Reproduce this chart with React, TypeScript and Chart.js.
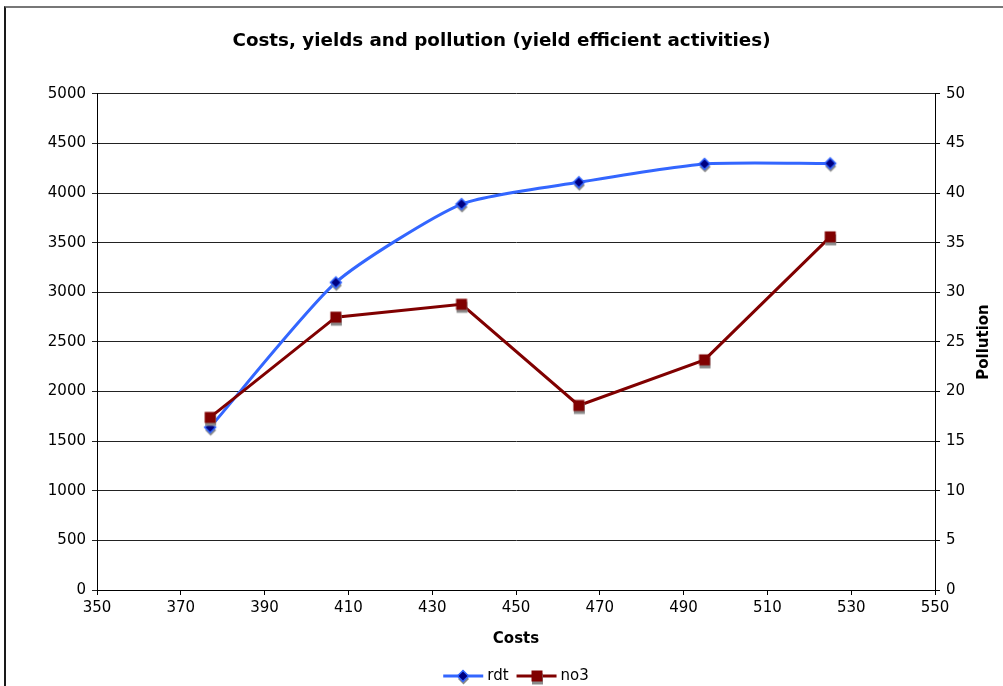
import { useEffect, useRef } from 'react';
import { Chart, registerables } from 'chart.js';

Chart.register(...registerables);

// Series data
const costs = [377, 407, 437, 465, 495, 525];
const rdt = [1640, 3100, 3890, 4110, 4295, 4300];
const no3 = [17.4, 27.5, 28.8, 18.6, 23.2, 35.6];

const seriesNames = ['rdt', 'no3'];
const chartTitle = 'Costs, yields and pollution (yield efficient activities)';
const xTitle = 'Costs';
const rightTitle = 'Pollution';

// Axis ranges
const xRange = { min: 350, max: 550, step: 20 };
const yLeftRange = { min: 0, max: 5000, step: 500 };
const yRightRange = { min: 0, max: 50, step: 5 };

const FONT = '"DejaVu Sans", Verdana, sans-serif';
const BLUE = '#3366ff';
const NAVY = '#000080';
const MAROON = '#800000';

// Marker sprites with a drop shadow, like spreadsheet charts draw them
function makeMarker(shape: 'diamond' | 'square'): HTMLCanvasElement {
  const c = document.createElement('canvas');
  c.width = 20;
  c.height = 20;
  const g = c.getContext('2d')!;
  const path = (dx: number, dy: number) => {
    g.beginPath();
    if (shape === 'diamond') {
      g.moveTo(10 + dx, 4.5 + dy);
      g.lineTo(15.5 + dx, 10 + dy);
      g.lineTo(10 + dx, 15.5 + dy);
      g.lineTo(4.5 + dx, 10 + dy);
    } else {
      g.rect(4.5 + dx, 4.5 + dy, 11, 11);
    }
    g.closePath();
  };
  path(0.5, 3);
  g.fillStyle = '#8a8a8a';
  g.fill();
  path(0, 0);
  if (shape === 'diamond') {
    g.fillStyle = NAVY;
    g.fill();
    g.strokeStyle = BLUE;
    g.lineWidth = 1.5;
    g.stroke();
  } else {
    g.fillStyle = MAROON;
    g.fill();
  }
  return c;
}

const plainNumber = (v: string | number) => String(v);

const extras = {
  id: 'extras',
  afterDraw(chart: any) {
    const { ctx, chartArea } = chart;
    // right axis title, reading bottom to top
    ctx.save();
    ctx.font = `bold 15px ${FONT}`;
    ctx.fillStyle = '#000';
    ctx.textAlign = 'center';
    ctx.textBaseline = 'middle';
    ctx.translate(chart.scales.y2.right - 19, (chartArea.top + chartArea.bottom) / 2);
    ctx.rotate(-Math.PI / 2);
    ctx.fillText(rightTitle, 0, 0);
    ctx.restore();

    // legend: line sample with marker, then label
    ctx.save();
    ctx.font = `15px ${FONT}`;
    ctx.textBaseline = 'middle';
    ctx.textAlign = 'left';
    const lineLen = 40;
    const gapText = 4;
    const gapItem = 8;
    const items = chart.data.datasets.map((ds: any) => ({
      ds,
      w: lineLen + gapText + ctx.measureText(ds.label).width,
    }));
    const total = items.reduce((s: number, it: any) => s + it.w, 0) + gapItem * (items.length - 1);
    let x = (chartArea.left + chartArea.right) / 2 - total / 2;
    const y = 676;
    for (const it of items) {
      ctx.strokeStyle = it.ds.borderColor;
      ctx.lineWidth = 3;
      ctx.beginPath();
      ctx.moveTo(x, y);
      ctx.lineTo(x + lineLen, y);
      ctx.stroke();
      const img = it.ds.pointStyle as HTMLCanvasElement;
      ctx.drawImage(img, Math.round(x + lineLen / 2 - img.width / 2), Math.round(y - img.height / 2));
      ctx.fillStyle = '#000';
      ctx.fillText(it.ds.label, x + lineLen + gapText, y);
      x += it.w + gapItem;
    }
    ctx.restore();
  },
};

export default function App() {
  const ref = useRef<HTMLCanvasElement>(null);

  useEffect(() => {
    const diamond = makeMarker('diamond');
    const square = makeMarker('square');
    const tickFont = { family: FONT, size: 15 };
    const chart = new Chart(ref.current!, {
      type: 'line',
      data: {
        datasets: [
          {
            label: seriesNames[0],
            data: costs.map((c, i) => ({ x: c, y: rdt[i] })),
            borderColor: BLUE,
            borderWidth: 3,
            pointStyle: diamond as any,
            pointRadius: 6,
            tension: 0.2,
            yAxisID: 'y',
            order: 1,
          },
          {
            label: seriesNames[1],
            data: costs.map((c, i) => ({ x: c, y: no3[i] })),
            borderColor: MAROON,
            borderWidth: 3,
            pointStyle: square as any,
            pointRadius: 6,
            tension: 0,
            yAxisID: 'y2',
            order: 0,
          },
        ],
      },
      options: {
        responsive: false,
        animation: false,
        devicePixelRatio: 1,
        layout: { padding: 0 },
        plugins: {
          legend: { display: false },
          tooltip: { enabled: false },
          title: {
            display: true,
            text: chartTitle,
            color: '#000',
            font: { family: FONT, size: 18.3, weight: 'bold' },
            padding: { top: 30, bottom: 42 },
          },
        },
        scales: {
          x: {
            type: 'linear',
            position: 'bottom',
            min: xRange.min,
            max: xRange.max,
            ticks: { stepSize: xRange.step, color: '#000', font: tickFont, padding: 4, maxRotation: 0, callback: plainNumber },
            grid: { drawOnChartArea: false, drawTicks: true, tickLength: 5, color: '#000' },
            border: { color: '#000', width: 1 },
            title: {
              display: true,
              text: xTitle,
              color: '#000',
              font: { family: FONT, size: 15, weight: 'bold' },
              padding: { top: 0, bottom: 38 },
            },
            afterFit: (s: any) => {
              s.height = 96;
            },
          },
          y: {
            position: 'left',
            min: yLeftRange.min,
            max: yLeftRange.max,
            ticks: { stepSize: yLeftRange.step, color: '#000', font: tickFont, padding: 6, callback: plainNumber },
            grid: { color: '#222', tickLength: 5, lineWidth: 1 },
            border: { color: '#000', width: 1 },
            afterFit: (s: any) => {
              s.width = 97;
            },
          },
          y2: {
            position: 'right',
            min: yRightRange.min,
            max: yRightRange.max,
            ticks: { stepSize: yRightRange.step, color: '#000', font: tickFont, padding: 6, callback: plainNumber },
            grid: { drawOnChartArea: false, color: '#000', tickLength: 5 },
            border: { color: '#000', width: 1 },
            afterFit: (s: any) => {
              s.width = 68;
            },
          },
        },
      },
      plugins: [extras],
    });
    return () => chart.destroy();
  }, []);

  return (
    <div
      style={{
        position: 'absolute',
        left: 0,
        top: 0,
        width: 1003,
        height: 686,
        overflow: 'hidden',
        background: '#fff',
      }}
    >
      <div
        style={{
          position: 'absolute',
          left: 4,
          top: 6,
          width: 1100,
          height: 800,
          borderLeft: '2px solid #1a1a1a',
          borderTop: '2px solid #777',
        }}
      />
      <canvas ref={ref} width={1003} height={686} style={{ position: 'absolute', left: 0, top: 0 }} />
    </div>
  );
}
